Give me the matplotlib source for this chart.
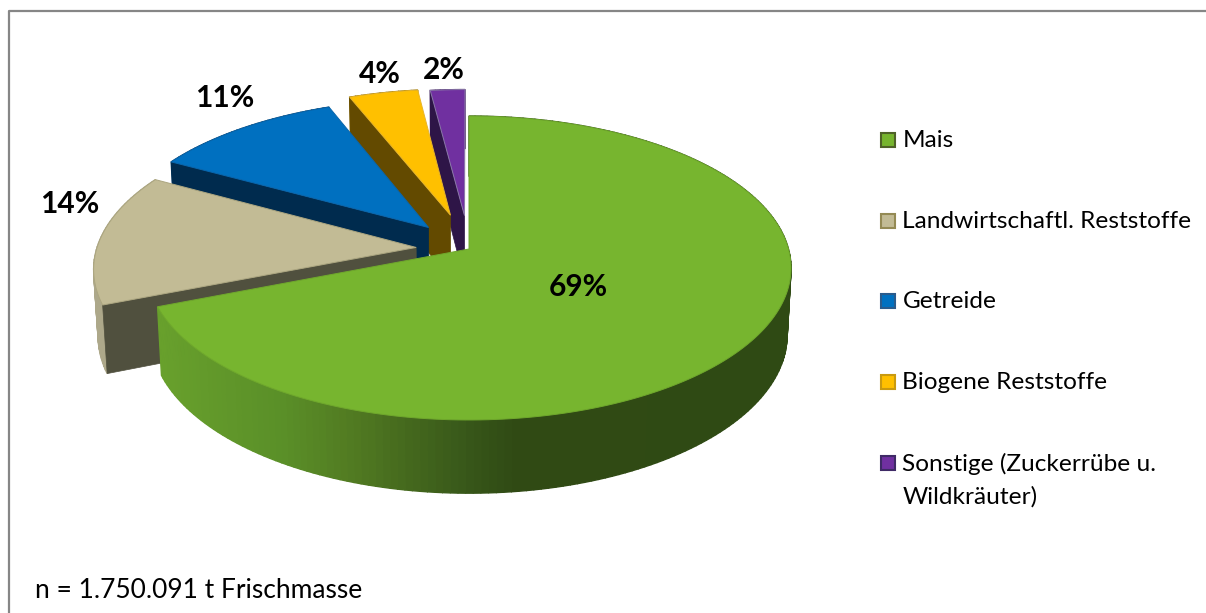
import numpy as np
import matplotlib
matplotlib.use("Agg")
import matplotlib.pyplot as plt
from matplotlib.colors import LinearSegmentedColormap
from matplotlib.patches import Polygon, Rectangle

plt.rcParams["font.family"] = ["Lato", "DejaVu Sans"]

categories = ["Mais", "Landwirtschaftl. Reststoffe", "Getreide",
              "Biogene Reststoffe", "Sonstige (Zuckerrübe u.\nWildkräuter)"]
shares = [69, 14, 11, 4, 2]
note = "n = 1.750.091 t Frischmasse"

# Slice styling
top_colors = ["#77B52F", "#C2BB95", "#0070C0", "#FFC000", "#7030A0"]
edge_colors = ["#6FA82C", "#ACA680", "#0A66AC", "#E8B52A", "#8A78A8"]
cut_colors = ["#4A7020", "#50503E", "#002B4E", "#634A00", "#2E1547"]
rim_colors = ["#6AA12C", "#ADA88A", "#003A66", "#7F6000", "#381858"]
legend_edges = ["#4F6228", "#948A54", "#2A5B8C", "#C99A10", "#3F2A66"]
explode = [0.0, 0.166, 0.195, 0.24, 0.23]
label_xy = [(578, 285), (70, 202), (225, 96), (380, 72), (444, 68)]

# Perspective disc: apex on screen, radii and camera foreshortening
CX, CY = 469.0, 249.0
R, H = 319.5, 149.6
K = 0.125
DEPTH, M = 67.0, 0.012


def project(u, v, lower=False):
    """Map disc coordinates to canvas pixels, on the top or bottom face."""
    u, v = np.asarray(u, float), np.asarray(v, float)
    w = 1 + K * v + (M if lower else 0.0)
    d = DEPTH if lower else 0.0
    return np.column_stack([CX + R * u / w, CY + (d - H * v) / w])


fig = plt.figure(figsize=(12.06, 6.13), dpi=100)
ax = fig.add_axes([0, 0, 1, 1])
ax.set_xlim(0, 1206)
ax.set_ylim(613, 0)
ax.axis("off")

# Chart frame: left and top sides stay on the canvas
ax.plot([9, 9, 1206], [620, 11, 11], color="#868686", lw=1.6, zorder=1)

# Lighting on the big slice's outer wall, keyed on horizontal canvas position
WALL_LEFT, WALL_RIGHT = 160.0, 791.0
wall_stops = [(160, "#68A02C"), (283, "#5A8F28"), (350, "#527C22"),
              (400, "#476C1E"), (467, "#38581A"), (517, "#304A14"), (791, "#2F4A14")]
wall_map = LinearSegmentedColormap.from_list(
    "wall",
    [((x - WALL_LEFT) / (WALL_RIGHT - WALL_LEFT), c) for x, c in wall_stops],
)

fractions = np.array(shares) / sum(shares)
edges = np.concatenate([[0.0], np.cumsum(fractions)]) * 2 * np.pi

# Painted back to front; equal zorder keeps the order of creation
for i in [4, 3, 2, 1, 0]:
    t = np.linspace(edges[i], edges[i + 1], max(int(fractions[i] * 300), 8))
    mid = (edges[i] + edges[i + 1]) / 2
    ou, ov = explode[i] * np.sin(mid), explode[i] * np.cos(mid)
    u, v = np.sin(t) + ou, np.cos(t) + ov

    top_rim = project(u, v)
    low_rim = project(u, v, lower=True)

    # Outer wall, in strips so it can carry shading
    for j in range(len(t) - 1):
        quad = [top_rim[j], top_rim[j + 1], low_rim[j + 1], low_rim[j]]
        if i == 0:
            shade = (top_rim[j][0] - WALL_LEFT) / (WALL_RIGHT - WALL_LEFT)
            c = wall_map(float(np.clip(shade, 0, 1)))
        else:
            c = rim_colors[i]
        ax.add_patch(Polygon(quad, closed=True, fc=c, ec=c, lw=1.0, zorder=2))

    apex_top = project([ou], [ov])[0]
    apex_low = project([ou], [ov], lower=True)[0]

    # Radial cut face on the leading edge of each pulled-out slice
    if i > 0:
        ax.add_patch(Polygon([apex_top, top_rim[0], low_rim[0], apex_low],
                             closed=True, fc=cut_colors[i], ec=cut_colors[i],
                             lw=0.5, zorder=2))

    # Top face
    ax.add_patch(Polygon(np.vstack([apex_top, top_rim]), closed=True,
                         fc=top_colors[i], ec=edge_colors[i], lw=0.7, zorder=2))

# Value labels
for value, (x, y) in zip(shares, label_xy):
    ax.text(x, y + 2, f"{value}%", ha="center", va="center",
            fontsize=21.5, fontweight="bold", color="black", zorder=5)

# Legend
legend_y = [139, 220, 300, 381, 462]
for name, y, fc, ec in zip(categories, legend_y, top_colors, legend_edges):
    ax.add_patch(Rectangle((881, y - 6), 14, 14, fc=fc, ec=ec, lw=1.5, zorder=5))
    ax.text(902.5, y - 9, name, ha="left", va="top", fontsize=17.6,
            color="black", linespacing=1.6, zorder=5)

ax.text(35, 591, note, ha="left", va="center", fontsize=19, color="black", zorder=5)

fig.savefig("out.png", dpi=100, facecolor="white")
